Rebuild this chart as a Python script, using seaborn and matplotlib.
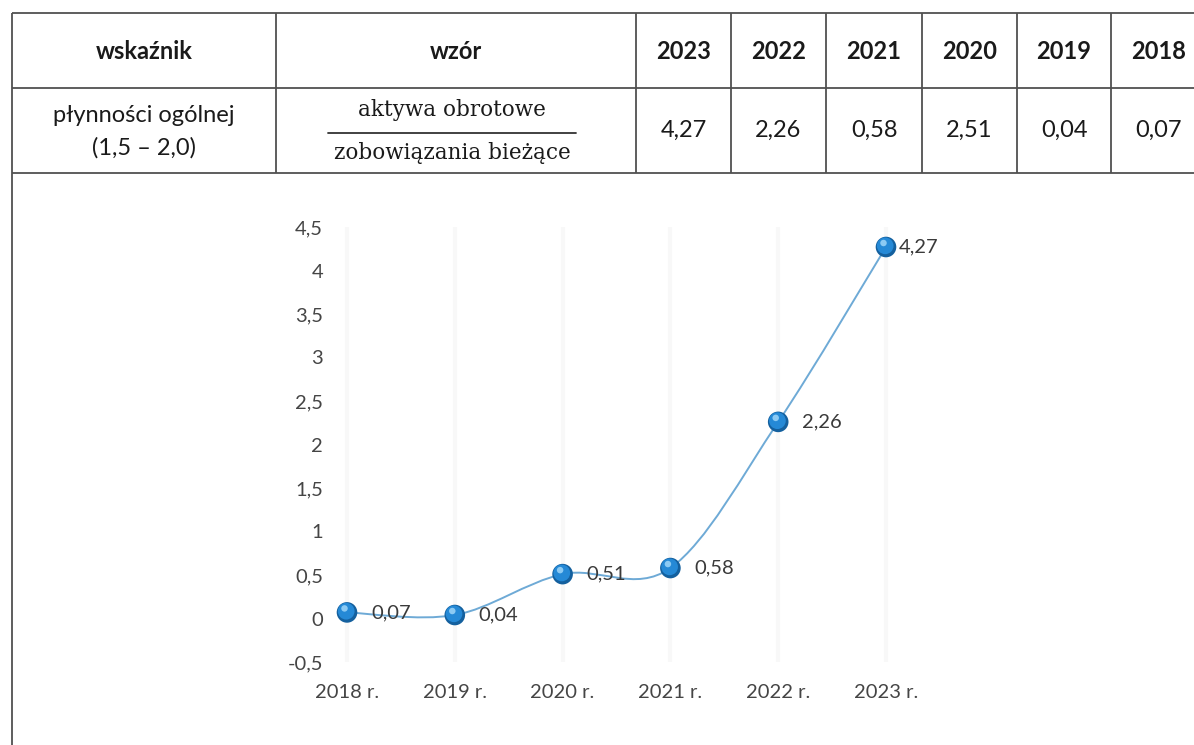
import numpy as np
import matplotlib
matplotlib.use("Agg")
import matplotlib.pyplot as plt
from matplotlib.path import Path
from matplotlib.patches import PathPatch
from matplotlib import transforms
import seaborn as sns

# ---------------- data ----------------
table_years = ["2023", "2022", "2021", "2020", "2019", "2018"]
table_values = [4.27, 2.26, 0.58, 2.51, 0.04, 0.07]
indicator_name = ["płynności ogólnej", "(1,5 – 2,0)"]
formula_top = "aktywa obrotowe"
formula_bottom = "zobowiązania bieżące"
header_cols = ["wskaźnik", "wzór"]

categories = ["2018 r.", "2019 r.", "2020 r.", "2021 r.", "2022 r.", "2023 r."]
chart_values = [0.07, 0.04, 0.51, 0.58, 2.26, 4.27]
y_ticks = [-0.5, 0, 0.5, 1, 1.5, 2, 2.5, 3, 3.5, 4, 4.5]


def pl(v, fmt="{:.2f}"):
    return fmt.format(v).replace(".", ",")


def tick_fmt(v):
    return ("%g" % v).replace(".", ",")

# ---------------- style ----------------
sns.set_theme(style="white")
plt.rcParams["font.family"] = ["Lato", "DejaVu Sans"]
plt.rcParams["axes.unicode_minus"] = False

W, H = 1194, 745
fig = plt.figure(figsize=(W / 100, H / 100), dpi=100)
fig.patch.set_facecolor("white")

# ---------------- table (pixel overlay) ----------------
axt = fig.add_axes([0, 0, 1, 1])
axt.set_xlim(0, W)
axt.set_ylim(H, 0)
axt.axis("off")

line_kw = dict(color="#505050", lw=1.3, solid_capstyle="butt")
left_x = 12
col_x = [276, 636, 731, 826, 922, 1017, 1111, 1206]
y_top, y_mid, y_bot = 13, 88, 173

axt.plot([left_x, W], [y_top, y_top], **line_kw)
axt.plot([left_x, W], [y_mid, y_mid], **line_kw)
axt.plot([left_x, W], [y_bot, y_bot], **line_kw)
axt.plot([left_x, left_x], [y_top, H], **line_kw)
for cx in col_x[:-1]:
    axt.plot([cx, cx], [y_top, y_bot], **line_kw)

txt_col = "#1a1a1a"
head_y = (y_top + y_mid) / 2 + 1
row_y = (y_mid + y_bot) / 2
axt.text((left_x + col_x[0]) / 2, head_y, header_cols[0], ha="center", va="center",
         fontsize=17, fontweight="bold", color=txt_col)
axt.text((col_x[0] + col_x[1]) / 2, head_y, header_cols[1], ha="center", va="center",
         fontsize=17, fontweight="bold", color=txt_col)
for i, yr in enumerate(table_years):
    cx = (col_x[i + 1] + col_x[i + 2]) / 2
    axt.text(cx, head_y, yr, ha="center", va="center", fontsize=17,
             fontweight="bold", color=txt_col)
    axt.text(cx, row_y, pl(table_values[i]), ha="center", va="center",
             fontsize=17, color=txt_col)

axt.text((left_x + col_x[0]) / 2, 115, indicator_name[0], ha="center", va="center",
         fontsize=17, color=txt_col)
axt.text((left_x + col_x[0]) / 2, 148, indicator_name[1], ha="center", va="center",
         fontsize=17, color=txt_col)

fx = (col_x[0] + col_x[1]) / 2 - 4
axt.text(fx, 110, formula_top, ha="center", va="center", fontsize=15.5,
         family="DejaVu Serif", color=txt_col)
axt.plot([fx - 124, fx + 124], [133, 133], color="#333333", lw=1.3)
axt.text(fx, 153, formula_bottom, ha="center", va="center", fontsize=15.5,
         family="DejaVu Serif", color=txt_col)

# ---------------- chart ----------------
px_left, px_right = 330, 905
px_top, px_bottom = 227, 662
first_px, last_px = 347, 886
step = (last_px - first_px) / (len(categories) - 1)

ax = fig.add_axes([px_left / W, 1 - px_bottom / H, (px_right - px_left) / W,
                   (px_bottom - px_top) / H])
ax.set_facecolor("none")
ax.set_xlim((px_left - first_px) / step, (len(categories) - 1) + (px_right - last_px) / step)
ax.set_ylim(y_ticks[0], y_ticks[-1])
for s in ax.spines.values():
    s.set_visible(False)

xpos = np.arange(len(categories))
yv = np.array(chart_values)

# very faint vertical scan bands
for xp in xpos:
    ax.axvline(xp, color="#f8f8f8", lw=3, zorder=0)

# smoothed line (Catmull-Rom -> Bezier, as in Excel smoothed lines)
pts = np.column_stack([xpos, yv]).astype(float)
verts = [tuple(pts[0])]
codes = [Path.MOVETO]
n = len(pts)
for i in range(n - 1):
    p0 = pts[i - 1] if i > 0 else pts[i]
    p1 = pts[i]
    p2 = pts[i + 1]
    p3 = pts[i + 2] if i + 2 < n else pts[i + 1]
    c1 = p1 + (p2 - p0) / 6.0
    c2 = p2 - (p3 - p1) / 6.0
    verts += [tuple(c1), tuple(c2), tuple(p2)]
    codes += [Path.CURVE4] * 3
ax.add_patch(PathPatch(Path(verts, codes), facecolor="none", edgecolor="#6eaad6",
                       lw=1.4, zorder=2))

# 3D-looking markers
sns.scatterplot(x=xpos, y=yv, s=220, color="#14609e", edgecolor="none", ax=ax,
                zorder=3, legend=False)
off1 = transforms.offset_copy(ax.transData, fig=fig, x=-0.8, y=1.2, units="dots")
ax.scatter(xpos, yv, s=145, color="#2589d6", edgecolor="none", zorder=4, transform=off1)
off2 = transforms.offset_copy(ax.transData, fig=fig, x=-2.5, y=4, units="dots")
ax.scatter(xpos, yv, s=22, color="#8ccaf3", edgecolor="none", zorder=5, transform=off2)

# data labels
label_dx = [24, 24, 24, 24, 24, 13]
for xp, v, dx in zip(xpos, yv, label_dx):
    ax.annotate(pl(v), (xp, v), xytext=(dx, 0), textcoords="offset pixels",
                ha="left", va="center", fontsize=14.5, color="#3a3a3a", zorder=6)

ax.set_xticks(xpos)
ax.set_xticklabels(categories)
ax.set_yticks(y_ticks)
ax.set_yticklabels([tick_fmt(t) for t in y_ticks])
ax.tick_params(axis="both", length=0, labelsize=14.5, colors="#454545")
ax.tick_params(axis="y", pad=5)
ax.tick_params(axis="x", pad=16)
ax.grid(False)

fig.savefig("out.png", dpi=100, facecolor="white")
